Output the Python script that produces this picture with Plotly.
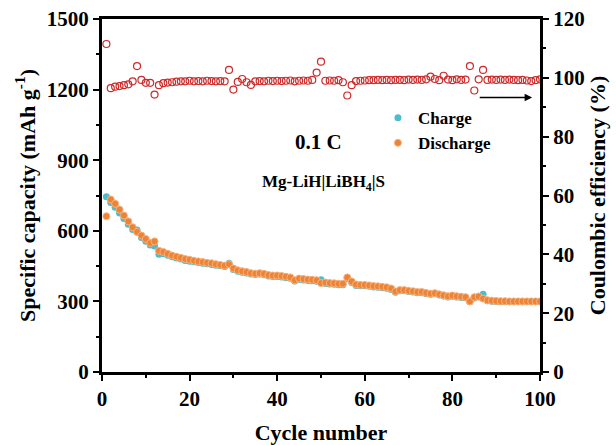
import plotly.graph_objects as go

cycles = list(range(1, 101))

discharge = [662, 733, 715, 690, 665, 640, 615, 595, 580, 565,
             548, 555, 515, 510, 502, 495, 490, 485, 480, 477,
             473, 470, 467, 464, 462, 458, 455, 452, 458, 440,
             432, 428, 425, 420, 418, 420, 417, 412, 410, 410,
             408, 405, 402, 390, 397, 395, 393, 392, 390, 378,
             380, 378, 377, 375, 375, 402, 385, 372, 370, 370,
             368, 365, 364, 362, 360, 355, 342, 348, 348, 345,
             343, 340, 340, 336, 333, 335, 330, 326, 322, 325,
             322, 320, 318, 300, 318, 320, 312, 305, 303, 302,
             301, 301, 300, 300, 300, 300, 300, 300, 300, 300]

charge = [745, 720, 700, 676, 652, 628, 606, 603, 572, 556,
          540, 535, 500, 503, 496, 490, 484, 480, 474, 471,
          468, 465, 462, 460, 457, 454, 451, 448, 462, 436,
          428, 424, 421, 416, 414, 416, 413, 408, 406, 406,
          404, 401, 398, 387, 393, 391, 389, 388, 386, 392,
          376, 374, 373, 371, 371, 396, 380, 368, 366, 366,
          364, 361, 360, 358, 356, 351, 339, 345, 345, 342,
          340, 337, 337, 333, 330, 332, 327, 323, 319, 322,
          319, 317, 315, 298, 314, 322, 330, 303, 301, 300,
          299, 299, 298, 298, 298, 298, 298, 298, 298, 298]

efficiency = [111.5, 96.5, 97.0, 97.2, 97.5, 97.8, 98.8, 104.0, 99.3, 98.3,
              98.3, 94.3, 97.5, 98.2, 98.4, 98.5, 98.7, 98.8, 98.8, 99.0,
              98.8, 98.9, 98.8, 99.0, 98.9, 98.8, 98.9, 98.8, 102.7, 96.0,
              98.6, 99.6, 98.5, 97.6, 98.8, 98.9, 98.8, 99.0, 98.9, 99.0,
              98.9, 99.0, 99.1, 98.8, 99.0, 99.1, 99.0, 99.3, 101.8, 105.5,
              99.0, 99.1, 99.0, 99.2, 98.5, 94.0, 97.5, 98.9, 99.0, 99.1,
              99.2, 99.2, 99.3, 99.2, 99.3, 99.2, 99.3, 99.3, 99.2, 99.4,
              99.3, 99.4, 99.3, 99.5, 100.4, 99.6, 99.2, 100.7, 99.4, 99.2,
              99.5, 99.3, 99.4, 104.0, 95.7, 99.5, 102.7, 99.3, 99.4, 99.3,
              99.4, 99.3, 99.4, 99.3, 99.2, 99.3, 99.1, 98.9, 99.2, 99.5]

x_ticks = [0, 20, 40, 60, 80, 100]
cap_ticks = [0, 300, 600, 900, 1200, 1500]
ce_ticks = [0, 20, 40, 60, 80, 100, 120]

FONT = "Liberation Serif"
ORANGE = "#ee8336"
CYAN = "#4fbcca"
RED = "#cc2a2a"

fig = go.Figure()
fig.add_trace(go.Scatter(
    x=cycles, y=charge, mode="markers", name="Charge",
    marker=dict(symbol="circle", size=7, color=CYAN, line=dict(width=0)),
))
fig.add_trace(go.Scatter(
    x=cycles, y=discharge, mode="markers", name="Discharge",
    marker=dict(symbol="circle", size=7, color=ORANGE, line=dict(width=1, color="#f6b27c")),
))
fig.add_trace(go.Scatter(
    x=cycles, y=efficiency, mode="markers", name="CE", yaxis="y2",
    showlegend=False,
    marker=dict(symbol="circle-open", size=7, color=RED, line=dict(width=1.2, color=RED)),
))

axis_common = dict(
    showline=True, linewidth=3, linecolor="black",
    ticks="outside", ticklen=6, tickwidth=2, tickcolor="black",
    showgrid=False, zeroline=False, automargin=False,
    tickfont=dict(family=FONT, size=21, color="black", weight="bold"),
)

fig.update_layout(
    width=616, height=445,
    margin=dict(l=102, r=76, t=19, b=73),
    paper_bgcolor="white", plot_bgcolor="white",
    font=dict(family=FONT, color="black"),
    xaxis=dict(
        range=[0, 100], tickvals=x_ticks, mirror=True,
        minor=dict(ticks="outside", ticklen=3, tickwidth=2, tickcolor="black", dtick=10),
        title=dict(text="Cycle number", font=dict(family=FONT, size=22, weight="bold"), standoff=20),
        **axis_common,
    ),
    yaxis=dict(
        range=[0, 1500], tickvals=cap_ticks,
        minor=dict(ticks="outside", ticklen=3, tickwidth=2, tickcolor="black", dtick=150),
        title=dict(text="Specific capacity (mAh g<sup>-1</sup>)", font=dict(family=FONT, size=22, weight="bold"), standoff=6),
        **axis_common,
    ),
    yaxis2=dict(
        range=[0, 120], tickvals=ce_ticks, overlaying="y", side="right",
        minor=dict(ticks="outside", ticklen=3, tickwidth=2, tickcolor="black", dtick=10),
        title=dict(text="Coulombic efficiency (%)", font=dict(family=FONT, size=22, weight="bold"), standoff=6),
        **axis_common,
    ),
    legend=dict(
        x=0.63, y=0.77, xanchor="left", yanchor="top",
        bgcolor="rgba(0,0,0,0)", borderwidth=0,
        font=dict(family=FONT, size=17, color="black", weight="bold"),
        itemwidth=30,
    ),
    showlegend=True,
)

fig.add_annotation(
    x=0.495, y=0.692, xref="paper", yref="paper", text="0.1 C", showarrow=False,
    font=dict(family=FONT, size=21, color="black", weight="bold"),
)
fig.add_annotation(
    x=0.505, y=0.534, xref="paper", yref="paper", text="Mg-LiH|LiBH<sub>4</sub>|S", showarrow=False,
    font=dict(family=FONT, size=17, color="black", weight="bold"),
)
fig.add_annotation(
    x=98.2, y=93.3, xref="x", yref="y2", ax=85.9, ay=93.3, axref="x", ayref="y2",
    text="", showarrow=True, arrowhead=2, arrowsize=1, arrowwidth=1.5, arrowcolor="black",
)

fig.write_html("out.html")
